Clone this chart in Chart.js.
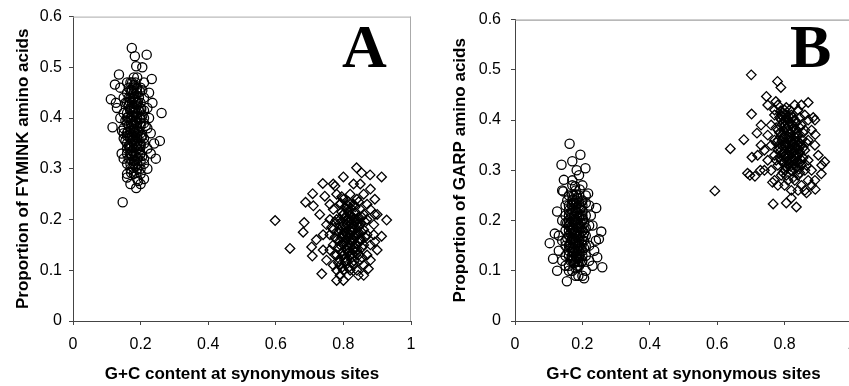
<!DOCTYPE html>
<html>
<head>
<meta charset="utf-8">
<script src="https://cdn.jsdelivr.net/npm/chart.js@4"></script>
<style>
  html, body { margin: 0; padding: 0; background: #fff; overflow: hidden; width: 849px; height: 386px; }
  .panel { position: absolute; top: 0; height: 386px; overflow: hidden; }
  #wrapA { left: 0; width: 430px; }
  #wrapB { left: 430px; width: 419px; }
  canvas { display: block; }
</style>
</head>
<body>
<div class="panel" id="wrapA"><canvas id="chartA" width="430" height="386"></canvas></div>
<div class="panel" id="wrapB"><canvas id="chartB" width="450" height="386"></canvas></div>
<script>
// tick values
const xTicks = [0, 0.2, 0.4, 0.6, 0.8, 1];
const yTicks = [0, 0.1, 0.2, 0.3, 0.4, 0.5, 0.6];

// Panel A: FYMINK proportion, low G+C genomes (circles)
const fyminkLowGC = [
  [0.174,0.538],[0.183,0.522],[0.218,0.525],[0.187,0.502],[0.205,0.50],[0.136,0.486],[0.233,0.477],[0.124,0.466],
  [0.112,0.437],[0.127,0.43],[0.262,0.41],[0.117,0.382],[0.257,0.355],[0.147,0.234],[0.187,0.262],[0.16,0.283],
  [0.193,0.276],[0.245,0.32],[0.144,0.33],
  [0.17,0.47],[0.18,0.46],[0.16,0.45],[0.19,0.45],[0.20,0.46],[0.17,0.44],[0.18,0.44],[0.21,0.44],[0.15,0.44],
  [0.16,0.43],[0.19,0.43],[0.18,0.42],[0.17,0.42],[0.20,0.42],[0.22,0.42],[0.15,0.41],[0.16,0.41],[0.18,0.41],
  [0.19,0.40],[0.17,0.40],[0.21,0.40],[0.14,0.40],[0.16,0.39],[0.18,0.39],[0.20,0.39],[0.17,0.38],[0.19,0.38],
  [0.15,0.38],[0.22,0.38],[0.18,0.37],[0.16,0.37],[0.20,0.37],[0.17,0.36],[0.19,0.36],[0.21,0.36],[0.15,0.36],
  [0.18,0.35],[0.16,0.35],[0.20,0.35],[0.17,0.34],[0.19,0.34],[0.22,0.34],[0.18,0.33],[0.16,0.33],[0.20,0.33],
  [0.17,0.32],[0.19,0.32],[0.21,0.31],[0.18,0.31],[0.16,0.31],[0.19,0.30],[0.17,0.30],[0.20,0.29],[0.18,0.29],
  [0.21,0.47],[0.19,0.48],[0.16,0.47],[0.18,0.48],[0.175,0.455],[0.185,0.435],[0.165,0.425],[0.195,0.415],
  [0.175,0.405],[0.185,0.395],[0.165,0.385],[0.195,0.375],[0.175,0.365],[0.185,0.355],[0.165,0.345],[0.195,0.345],
  [0.175,0.335],[0.185,0.325],[0.205,0.405],[0.155,0.395],[0.205,0.365],[0.155,0.355],[0.215,0.385],[0.145,0.375],
  [0.225,0.40],[0.23,0.37],[0.24,0.35],[0.235,0.43],[0.225,0.45],[0.14,0.46],[0.13,0.42],[0.23,0.33],[0.21,0.32],
  [0.15,0.32],[0.20,0.30],[0.22,0.30],[0.16,0.29],[0.19,0.28],[0.21,0.28],[0.17,0.27],[0.20,0.27],
  [0.175,0.47],[0.185,0.47],[0.17,0.455],[0.18,0.45],[0.19,0.46],[0.165,0.44],[0.195,0.44],[0.175,0.43],
  [0.185,0.42],[0.17,0.415],[0.18,0.405],[0.19,0.41],[0.175,0.395],[0.18,0.385],[0.17,0.375],[0.185,0.37],
  [0.19,0.39],[0.18,0.375],[0.175,0.355],[0.185,0.345],[0.17,0.35],[0.18,0.34],[0.19,0.35],[0.175,0.325],
  [0.18,0.315],[0.185,0.305],[0.17,0.31],[0.19,0.31],[0.20,0.315],[0.165,0.32],[0.205,0.325],[0.20,0.345],
  [0.16,0.365],[0.20,0.385],[0.16,0.40],[0.20,0.43],[0.165,0.46],[0.205,0.455],[0.155,0.43],[0.21,0.415],
  [0.15,0.37],[0.21,0.35],[0.18,0.465],[0.19,0.425],[0.17,0.395],[0.19,0.365],[0.17,0.33],[0.20,0.40],
  [0.16,0.34],[0.21,0.39],
  [0.172,0.452],[0.182,0.442],[0.192,0.432],[0.168,0.418],[0.178,0.412],[0.188,0.402],[0.198,0.398],[0.172,0.388],
  [0.182,0.378],[0.192,0.372],[0.168,0.362],[0.178,0.358],[0.188,0.348],[0.198,0.338],[0.172,0.328],[0.182,0.318],
  [0.192,0.322],[0.178,0.438],[0.188,0.458],[0.168,0.432],[0.198,0.452],[0.162,0.402],[0.202,0.418],[0.162,0.372],
  [0.202,0.362],[0.168,0.342],[0.198,0.328],[0.178,0.302],[0.188,0.292],[0.172,0.292]
];

// Panel A: FYMINK proportion, high G+C genomes (diamonds)
const fyminkHighGC = [
  [0.598,0.198],[0.642,0.143],[0.681,0.175],[0.684,0.194],[0.688,0.234],[0.709,0.251],[0.711,0.227],[0.706,0.146],
  [0.708,0.128],[0.736,0.093],[0.739,0.271],[0.745,0.246],[0.775,0.266],[0.78,0.08],[0.80,0.284],[0.839,0.302],
  [0.854,0.292],[0.879,0.288],[0.913,0.284],[0.928,0.199],[0.913,0.167],[0.893,0.156],[0.874,0.103],[0.844,0.09],
  [0.815,0.09],[0.893,0.24],[0.893,0.21],
  [0.78,0.25],[0.80,0.24],[0.82,0.25],[0.84,0.24],[0.86,0.25],[0.79,0.23],[0.81,0.22],[0.83,0.23],[0.85,0.22],
  [0.87,0.23],[0.77,0.22],[0.80,0.21],[0.82,0.21],[0.84,0.20],[0.86,0.21],[0.88,0.22],[0.76,0.20],[0.78,0.20],
  [0.81,0.19],[0.83,0.19],[0.85,0.19],[0.87,0.20],[0.75,0.19],[0.77,0.18],[0.79,0.18],[0.82,0.18],[0.84,0.17],
  [0.86,0.18],[0.89,0.19],[0.76,0.17],[0.78,0.16],[0.80,0.17],[0.83,0.16],[0.85,0.16],[0.87,0.17],[0.74,0.17],
  [0.77,0.15],[0.79,0.15],[0.81,0.15],[0.84,0.14],[0.86,0.15],[0.88,0.15],[0.76,0.14],[0.78,0.13],[0.80,0.13],
  [0.82,0.13],[0.85,0.12],[0.87,0.13],[0.75,0.12],[0.77,0.11],[0.79,0.11],[0.81,0.12],[0.83,0.11],[0.86,0.11],
  [0.78,0.10],[0.80,0.10],[0.82,0.10],[0.84,0.10],[0.79,0.09],[0.81,0.19],[0.82,0.20],[0.80,0.19],[0.83,0.18],
  [0.81,0.17],[0.82,0.16],[0.80,0.15],[0.83,0.14],[0.81,0.14],[0.84,0.19],[0.79,0.20],[0.82,0.23],[0.76,0.23],
  [0.73,0.21],[0.72,0.16],[0.74,0.14],[0.88,0.26],[0.85,0.27],[0.90,0.21],[0.89,0.17],[0.88,0.12],[0.90,0.14],
  [0.77,0.27],[0.83,0.27],[0.86,0.09],[0.80,0.08],
  [0.805,0.225],[0.815,0.215],[0.825,0.205],[0.835,0.215],[0.845,0.205],[0.805,0.205],[0.815,0.195],[0.825,0.185],
  [0.835,0.195],[0.845,0.185],[0.795,0.185],[0.805,0.175],[0.815,0.165],[0.825,0.175],[0.835,0.165],[0.845,0.175],
  [0.855,0.175],[0.795,0.165],[0.805,0.155],[0.815,0.145],[0.825,0.155],[0.835,0.145],[0.845,0.155],[0.785,0.145],
  [0.795,0.135],[0.805,0.125],[0.815,0.135],[0.825,0.125],[0.835,0.135],[0.785,0.175],[0.775,0.195],[0.855,0.205],
  [0.865,0.195],[0.795,0.215],[0.855,0.145],[0.785,0.115],[0.805,0.115],[0.825,0.115],[0.845,0.13],[0.775,0.13],
  [0.865,0.165],[0.835,0.225],[0.815,0.235],[0.795,0.245],[0.845,0.235],[0.775,0.165],[0.855,0.125],[0.765,0.185],
  [0.815,0.105],[0.795,0.105],
  [0.802,0.212],[0.812,0.202],[0.822,0.192],[0.832,0.202],[0.842,0.192],[0.808,0.182],[0.818,0.172],[0.828,0.162],
  [0.838,0.172],[0.848,0.162],[0.798,0.172],[0.808,0.162],[0.818,0.152],[0.828,0.142],[0.838,0.152],[0.798,0.152],
  [0.808,0.142],[0.818,0.128],[0.828,0.132],[0.798,0.128],[0.788,0.158],[0.788,0.192],[0.852,0.192],[0.852,0.158],
  [0.822,0.222],[0.812,0.228],[0.792,0.232],[0.832,0.118],[0.808,0.118],[0.788,0.122]
];

// Panel B: GARP proportion, low G+C genomes (circles)
const garpLowGC = [
  [0.162,0.353],[0.194,0.331],[0.17,0.318],[0.138,0.311],[0.209,0.304],[0.183,0.30],[0.145,0.281],[0.217,0.254],
  [0.143,0.258],[0.241,0.225],[0.103,0.155],[0.118,0.174],[0.113,0.124],[0.256,0.178],[0.249,0.163],[0.259,0.107],
  [0.244,0.127],[0.154,0.079],[0.205,0.085],[0.188,0.09],[0.125,0.10],[0.125,0.218],
  [0.17,0.27],[0.18,0.26],[0.16,0.25],[0.19,0.25],[0.21,0.25],[0.17,0.24],[0.18,0.24],[0.20,0.24],[0.15,0.23],
  [0.16,0.23],[0.19,0.23],[0.22,0.23],[0.17,0.22],[0.18,0.22],[0.20,0.22],[0.15,0.21],[0.16,0.21],[0.19,0.21],
  [0.21,0.21],[0.17,0.20],[0.18,0.20],[0.20,0.20],[0.14,0.20],[0.16,0.19],[0.19,0.19],[0.22,0.19],[0.17,0.18],
  [0.18,0.18],[0.20,0.18],[0.15,0.18],[0.16,0.17],[0.19,0.17],[0.21,0.17],[0.17,0.16],[0.18,0.16],[0.20,0.16],
  [0.14,0.16],[0.15,0.15],[0.16,0.15],[0.19,0.15],[0.22,0.15],[0.17,0.14],[0.18,0.14],[0.20,0.14],[0.16,0.13],
  [0.19,0.13],[0.21,0.13],[0.15,0.13],[0.17,0.12],[0.18,0.12],[0.20,0.12],[0.16,0.11],[0.19,0.11],[0.17,0.10],
  [0.21,0.10],[0.175,0.235],[0.185,0.215],[0.165,0.205],[0.175,0.195],[0.185,0.185],[0.165,0.175],[0.175,0.165],
  [0.185,0.155],[0.165,0.145],[0.175,0.135],[0.185,0.125],[0.195,0.195],[0.155,0.195],[0.205,0.175],[0.155,0.165],
  [0.205,0.145],[0.195,0.225],[0.225,0.21],[0.23,0.19],[0.24,0.16],[0.235,0.14],[0.13,0.17],[0.13,0.14],[0.14,0.12],
  [0.15,0.11],[0.22,0.12],[0.23,0.11],[0.18,0.09],[0.20,0.09],[0.16,0.10],[0.14,0.26],[0.20,0.27],[0.17,0.28],
  [0.19,0.29],
  [0.175,0.25],[0.185,0.245],[0.17,0.23],[0.18,0.225],[0.19,0.235],[0.165,0.215],[0.175,0.21],[0.185,0.20],
  [0.195,0.21],[0.17,0.19],[0.18,0.195],[0.19,0.185],[0.165,0.185],[0.175,0.175],[0.185,0.17],[0.195,0.175],
  [0.17,0.165],[0.18,0.155],[0.19,0.16],[0.165,0.155],[0.175,0.145],[0.185,0.14],[0.195,0.145],[0.17,0.13],
  [0.18,0.13],[0.19,0.125],[0.175,0.115],[0.185,0.11],[0.165,0.12],[0.20,0.13],[0.16,0.14],[0.205,0.16],
  [0.16,0.18],[0.205,0.195],[0.16,0.20],[0.20,0.21],[0.16,0.22],[0.20,0.23],[0.155,0.24],[0.21,0.235],
  [0.15,0.16],[0.21,0.15],[0.15,0.195],[0.21,0.185],[0.18,0.105],[0.17,0.25],[0.19,0.205],[0.17,0.145],
  [0.19,0.14],[0.18,0.175],
  [0.172,0.242],[0.182,0.232],[0.192,0.222],[0.168,0.212],[0.178,0.202],[0.188,0.192],[0.198,0.188],[0.172,0.182],
  [0.182,0.172],[0.192,0.168],[0.168,0.162],[0.178,0.152],[0.188,0.148],[0.198,0.152],[0.172,0.138],[0.182,0.128],
  [0.192,0.132],[0.168,0.128],[0.178,0.118],[0.188,0.118],[0.162,0.192],[0.202,0.202],[0.162,0.152],[0.202,0.168],
  [0.168,0.232],[0.198,0.238],[0.182,0.252],[0.192,0.262],[0.178,0.268],[0.198,0.118]
];

// Panel B: GARP proportion, high G+C genomes (diamonds)
const garpHighGC = [
  [0.593,0.259],[0.639,0.343],[0.679,0.361],[0.701,0.49],[0.702,0.412],[0.69,0.294],[0.697,0.29],[0.703,0.326],
  [0.712,0.288],[0.728,0.30],[0.718,0.374],[0.746,0.447],[0.779,0.477],[0.789,0.465],[0.766,0.233],[0.805,0.235],
  [0.835,0.227],[0.82,0.245],[0.87,0.435],[0.885,0.405],[0.891,0.371],[0.919,0.317],[0.909,0.293],[0.891,0.262],
  [0.865,0.255],[0.764,0.276],[0.774,0.437],
  [0.78,0.43],[0.80,0.42],[0.82,0.41],[0.84,0.42],[0.86,0.41],[0.77,0.41],[0.79,0.40],[0.81,0.40],[0.83,0.40],
  [0.85,0.39],[0.87,0.40],[0.76,0.39],[0.78,0.38],[0.80,0.39],[0.82,0.38],[0.84,0.37],[0.86,0.38],[0.88,0.38],
  [0.75,0.37],[0.77,0.36],[0.79,0.37],[0.81,0.36],[0.83,0.36],[0.85,0.35],[0.87,0.36],[0.76,0.35],[0.78,0.34],
  [0.80,0.35],[0.82,0.34],[0.84,0.33],[0.86,0.34],[0.89,0.35],[0.74,0.34],[0.77,0.33],[0.79,0.32],[0.81,0.33],
  [0.83,0.32],[0.85,0.31],[0.87,0.32],[0.75,0.32],[0.78,0.31],[0.80,0.30],[0.82,0.30],[0.84,0.29],[0.86,0.30],
  [0.88,0.30],[0.76,0.30],[0.79,0.29],[0.81,0.28],[0.83,0.28],[0.85,0.27],[0.87,0.28],[0.80,0.27],[0.82,0.26],
  [0.84,0.26],[0.86,0.26],[0.80,0.40],[0.81,0.38],[0.80,0.37],[0.82,0.36],[0.81,0.35],[0.83,0.34],[0.80,0.33],
  [0.82,0.32],[0.81,0.31],[0.79,0.35],[0.83,0.38],[0.79,0.41],[0.78,0.36],[0.84,0.35],[0.73,0.35],[0.72,0.33],
  [0.74,0.30],[0.73,0.39],[0.77,0.42],[0.75,0.43],[0.89,0.40],[0.90,0.33],[0.89,0.28],[0.88,0.27],[0.77,0.28],
  [0.78,0.27],[0.83,0.43],[0.85,0.43],[0.91,0.31],
  [0.795,0.415],[0.805,0.405],[0.815,0.395],[0.825,0.405],[0.835,0.395],[0.795,0.395],[0.805,0.385],[0.815,0.375],
  [0.825,0.385],[0.835,0.375],[0.845,0.385],[0.785,0.375],[0.795,0.365],[0.805,0.355],[0.815,0.365],[0.825,0.355],
  [0.835,0.365],[0.845,0.355],[0.785,0.345],[0.795,0.335],[0.805,0.325],[0.815,0.345],[0.825,0.335],[0.835,0.325],
  [0.845,0.335],[0.855,0.345],[0.795,0.315],[0.805,0.305],[0.815,0.315],[0.825,0.305],[0.835,0.305],[0.845,0.315],
  [0.855,0.325],[0.775,0.355],[0.775,0.385],[0.785,0.405],[0.855,0.375],[0.865,0.355],[0.785,0.325],[0.805,0.29],
  [0.825,0.285],[0.845,0.295],[0.865,0.31],[0.815,0.42],[0.805,0.425],[0.845,0.405],[0.775,0.32],[0.795,0.295],
  [0.835,0.345],[0.815,0.33],
  [0.792,0.408],[0.802,0.398],[0.812,0.388],[0.822,0.392],[0.832,0.382],[0.788,0.388],[0.798,0.378],[0.808,0.368],
  [0.818,0.358],[0.828,0.368],[0.838,0.358],[0.792,0.358],[0.802,0.348],[0.812,0.338],[0.822,0.342],[0.832,0.332],
  [0.842,0.342],[0.798,0.328],[0.808,0.318],[0.818,0.308],[0.828,0.312],[0.838,0.318],[0.848,0.322],[0.788,0.338],
  [0.852,0.362],[0.812,0.408],[0.788,0.418],[0.802,0.412],[0.842,0.302],[0.822,0.298]
];

const toPoints = arr => arr.map(p => ({ x: p[0], y: p[1] }));
const fmt = v => String(Number(v.toFixed(1)));

// frame round the plot area + the panel letter
const panelPlugin = {
  id: "panel",
  afterDraw(chart, args, opts) {
    const { ctx, chartArea: a } = chart;
    ctx.save();
    ctx.strokeStyle = opts.frameColor;
    ctx.lineWidth = 1;
    ctx.beginPath();
    ctx.moveTo(a.left, a.top + 0.5);
    ctx.lineTo(a.right, a.top + 0.5);
    ctx.moveTo(a.right - 0.5, a.top);
    ctx.lineTo(a.right - 0.5, a.bottom);
    ctx.stroke();
    ctx.fillStyle = "#000";
    ctx.font = "bold 62px 'Liberation Serif', 'DejaVu Serif', serif";
    ctx.textBaseline = "alphabetic";
    ctx.fillText(opts.letter, opts.lx, opts.ly);
    ctx.restore();
  }
};

function makePanel(id, low, high, yTitle, cfg) {
  const axisColor = "#444";
  new Chart(document.getElementById(id), {
    type: "scatter",
    data: {
      datasets: [
        {
          data: toPoints(low),
          pointStyle: "circle",
          pointRadius: 4.6,
          borderColor: "#000",
          borderWidth: 1.3,
          backgroundColor: "rgba(0,0,0,0)"
        },
        {
          data: toPoints(high),
          pointStyle: "rectRot",
          pointRadius: 4.8,
          borderColor: "#000",
          borderWidth: 1.3,
          backgroundColor: "rgba(0,0,0,0)"
        }
      ]
    },
    plugins: [panelPlugin],
    options: {
      responsive: false,
      animation: false,
      devicePixelRatio: 1,
      layout: { padding: { left: cfg.padLeft, right: cfg.padRight, top: 15, bottom: 1 } },
      plugins: {
        legend: { display: false },
        tooltip: { enabled: false },
        panel: { letter: cfg.letter, lx: cfg.lx, ly: cfg.ly, frameColor: cfg.frame }
      },
      scales: {
        x: {
          type: "linear",
          min: 0,
          max: 1,
          afterBuildTicks: s => { s.ticks = xTicks.map(v => ({ value: v })); },
          afterFit: s => { s.height = 64; },
          ticks: {
            color: "#000",
            font: { family: "'Liberation Sans', Arial, sans-serif", size: 16 },
            padding: 10,
            maxRotation: 0,
            callback: v => fmt(v)
          },
          grid: { drawOnChartArea: false, drawTicks: true, tickLength: 4, color: axisColor },
          border: { display: true, color: axisColor },
          title: {
            display: true,
            text: "G+C content at synonymous sites",
            color: "#000",
            font: { family: "'Liberation Sans', Arial, sans-serif", size: 17, weight: "bold" },
            padding: { top: 0, bottom: 0 }
          }
        },
        y: {
          type: "linear",
          min: 0,
          max: 0.6,
          afterBuildTicks: s => { s.ticks = yTicks.map(v => ({ value: v })); },
          afterFit: s => { s.width = cfg.yWidth; },
          ticks: {
            color: "#000",
            font: { family: "'Liberation Sans', Arial, sans-serif", size: 16 },
            padding: cfg.yTickPad,
            callback: v => fmt(v)
          },
          grid: { drawOnChartArea: false, drawTicks: true, tickLength: 4, color: axisColor },
          border: { display: true, color: axisColor },
          title: {
            display: true,
            text: yTitle,
            color: "#000",
            font: { family: "'Liberation Sans', Arial, sans-serif", size: 17, weight: "bold" },
            padding: { top: 4, bottom: 0 }
          }
        }
      }
    }
  });
}

makePanel("chartA", fyminkLowGC, fyminkHighGC, "Proportion of FYMINK amino acids",
  { padLeft: 9, padRight: 19, yWidth: 64, yTickPad: 7, letter: "A", lx: 342, ly: 67, frame: "#aaa" });

makePanel("chartB", garpLowGC, garpHighGC, "Proportion of GARP amino acids",
  { padLeft: 16, padRight: 28, yWidth: 69, yTickPad: 10, letter: "B", lx: 360, ly: 67, frame: "#888" });
</script>
</body>
</html>
